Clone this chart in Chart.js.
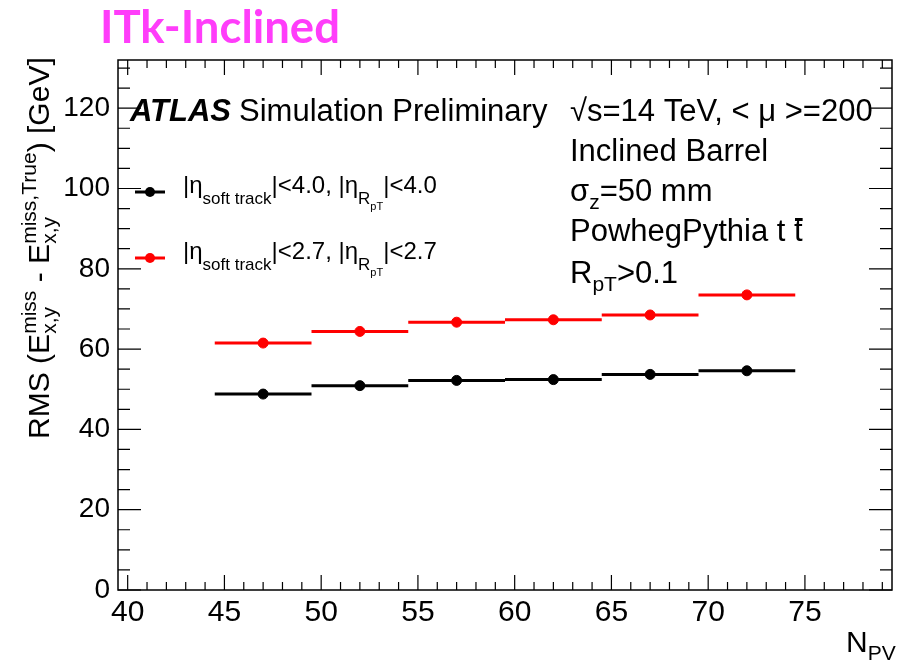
<!DOCTYPE html>
<html>
<head>
<meta charset="utf-8">
<script src="https://cdn.jsdelivr.net/npm/chart.js@4.4.1/dist/chart.umd.min.js"></script>
<style>
  html, body { margin: 0; padding: 0; background: #fff; }
  #wrap { position: relative; width: 898px; height: 660px; }
</style>
</head>
<body>
<div id="wrap"><canvas id="c" width="898" height="660"></canvas></div>
<script>
// N_PV の区間（ビン端）と中心
const binEdges = [44.5, 49.5, 54.5, 59.5, 64.5, 69.5, 74.5];
const npvCenters = [47, 52, 57, 62, 67, 72];

// RMS 値 [GeV]
const rmsEta40 = [48.8, 50.9, 52.2, 52.4, 53.7, 54.6]; // |eta|<4.0 (黒)
const rmsEta27 = [61.5, 64.4, 66.7, 67.3, 68.5, 73.5]; // |eta|<2.7 (赤)

// 目盛りラベル
const xTicks = [40, 45, 50, 55, 60, 65, 70, 75];
const yTicks = [0, 20, 40, 60, 80, 100, 120];

const FONT = '"Liberation Sans", Arial, Helvetica, sans-serif';
const f = (size, style = "") => `${style} ${size}px ${FONT}`;

// ビンごとの横線（間に null を入れて繋がらないようにする）
function segments(values) {
  const pts = [];
  values.forEach((v, i) => {
    pts.push({ x: binEdges[i], y: v }, { x: binEdges[i + 1], y: v }, { x: binEdges[i + 1], y: null });
  });
  return pts;
}
const dots = (values) => values.map((v, i) => ({ x: npvCenters[i], y: v }));

// 上付き・下付きを含む文字列を描く（k で文字サイズを一括拡大縮小）
function drawRich(ctx, x, y, parts, k = 1, dry = false) {
  let cx = x;
  parts.forEach((p) => {
    const items = p.stack || [p];
    let w = 0;
    items.forEach((q) => {
      ctx.font = f(q.s * k, q.st || "");
      if (!dry) ctx.fillText(q.t, cx, y + (q.dy || 0) * k);
      w = Math.max(w, ctx.measureText(q.t).width);
    });
    cx += w;
  });
  return cx;
}

// ROOT 風の枠と内向き目盛り
const framePlugin = {
  id: "frame",
  afterDraw(chart) {
    const { ctx, chartArea: a, scales } = chart;
    const xs = scales.x, ys = scales.y;
    ctx.save();
    ctx.strokeStyle = "#000";
    ctx.lineWidth = 1.5;
    ctx.strokeRect(a.left, a.top, a.right - a.left, a.bottom - a.top);
    ctx.lineWidth = 1.2;
    ctx.beginPath();
    for (let v = 40; v <= 79; v++) {
      const px = xs.getPixelForValue(v);
      const len = v % 5 === 0 ? 15 : 8;
      ctx.moveTo(px, a.bottom); ctx.lineTo(px, a.bottom - len);
      ctx.moveTo(px, a.top); ctx.lineTo(px, a.top + len);
    }
    for (let v = 0; v <= 130; v += 5) {
      const py = ys.getPixelForValue(v);
      const len = v % 20 === 0 ? 23 : 12;
      ctx.moveTo(a.left, py); ctx.lineTo(a.left + len, py);
      ctx.moveTo(a.right, py); ctx.lineTo(a.right - len, py);
    }
    ctx.stroke();
    ctx.restore();
  },
};

// タイトル・注釈・凡例・軸タイトル
const textPlugin = {
  id: "texts",
  afterDraw(chart) {
    const { ctx } = chart;
    ctx.save();
    ctx.textBaseline = "alphabetic";
    ctx.textAlign = "left";

    // タイトル
    ctx.fillStyle = "#ff3dfa";
    ctx.font = 'bold 40px Lato, "Open Sans", sans-serif';
    const tw = ctx.measureText("ITk-Inclined").width;
    const ts = 40 * 240 / tw;
    ctx.font = `bold ${ts}px Lato, "Open Sans", sans-serif`;
    ctx.fillText("ITk-Inclined", 100, 43);

    ctx.fillStyle = "#000";
    // ATLAS ラベル
    let x = drawRich(ctx, 130, 121, [{ t: "ATLAS", s: 31, st: "italic bold" }]);
    drawRich(ctx, x + 8, 121, [{ t: "Simulation Preliminary", s: 31 }]);

    drawRich(ctx, 570, 121, [{ t: "\u221As=14 TeV, < \u03bc >=200", s: 31 }]);
    drawRich(ctx, 570, 161, [{ t: "Inclined Barrel", s: 31 }]);
    drawRich(ctx, 570, 201, [{ t: "\u03c3", s: 31 }, { t: "z", s: 21, dy: 8 }, { t: "=50 mm", s: 31 }]);
    x = drawRich(ctx, 570, 241, [{ t: "PowhegPythia t ", s: 31 }]);
    const tEnd = drawRich(ctx, x, 241, [{ t: "t", s: 31 }]);
    ctx.fillRect(x + 1, 218, tEnd - x - 1, 3);
    drawRich(ctx, 570, 283, [{ t: "R", s: 31 }, { t: "pT", s: 21, dy: 8 }, { t: ">0.1", s: 31 }]);

    // 凡例
    const legend = [
      { color: "#000", y: 192, cut: "4.0" },
      { color: "#ff0000", y: 258, cut: "2.7" },
    ];
    legend.forEach((l) => {
      ctx.strokeStyle = l.color;
      ctx.fillStyle = l.color;
      ctx.lineWidth = 3;
      ctx.beginPath();
      ctx.moveTo(135, l.y); ctx.lineTo(165, l.y);
      ctx.stroke();
      ctx.beginPath();
      ctx.arc(150, l.y, 5, 0, Math.PI * 2);
      ctx.fill();
      ctx.fillStyle = "#000";
      drawRich(ctx, 183, l.y + 1, [
        { t: "|\u03b7", s: 24 },
        { t: "soft track", s: 17, dy: 11 },
        { t: `|<${l.cut}, |\u03b7`, s: 24 },
        { t: "R", s: 17, dy: 11 },
        { t: "pT", s: 11, dy: 17 },
        { t: `|<${l.cut}`, s: 24 },
      ]);
    });

    // X 軸タイトル
    ctx.fillStyle = "#000";
    drawRich(ctx, 846, 652, [{ t: "N", s: 30 }, { t: "PV", s: 21, dy: 8 }]);

    // Y 軸タイトル（回転、長さを 382px に合わせる）
    const yTitle = [
      { t: "RMS (E", s: 30 },
      { stack: [{ t: "miss", s: 21, dy: -13 }, { t: "x,y", s: 21, dy: 7 }] },
      { t: " - E", s: 30 },
      { stack: [{ t: "miss,True", s: 21, dy: -13 }, { t: "x,y", s: 21, dy: 7 }] },
      { t: ") [GeV]", s: 30 },
    ];
    const k = 382 / drawRich(ctx, 0, 0, yTitle, 1, true);
    ctx.translate(49, 439);
    ctx.rotate(-Math.PI / 2);
    drawRich(ctx, 0, 0, yTitle, k);
    ctx.restore();
  },
};

const series = [
  { values: rmsEta40, color: "#000000" },
  { values: rmsEta27, color: "#ff0000" },
];
const datasets = [];
series.forEach((s) => {
  datasets.push({
    data: segments(s.values),
    showLine: true,
    spanGaps: false,
    borderColor: s.color,
    borderWidth: 3,
    pointRadius: 0,
  });
  datasets.push({
    data: dots(s.values),
    showLine: false,
    backgroundColor: s.color,
    borderColor: s.color,
    pointRadius: 5,
  });
});

new Chart(document.getElementById("c"), {
  type: "scatter",
  data: { datasets },
  options: {
    responsive: false,
    animation: false,
    layout: { padding: { left: 0, top: 60, right: 4, bottom: 0 } },
    plugins: { legend: { display: false }, tooltip: { enabled: false } },
    scales: {
      x: {
        type: "linear",
        min: 39.5,
        max: 79.5,
        afterBuildTicks: (scale) => { scale.ticks = xTicks.map((v) => ({ value: v })); },
        afterFit: (scale) => { scale.height = 70; },
        grid: { display: false, drawTicks: false },
        border: { display: false },
        ticks: { color: "#000", font: { size: 30, family: FONT }, padding: 5, maxRotation: 0, autoSkip: false },
      },
      y: {
        type: "linear",
        min: 0,
        max: 132,
        afterBuildTicks: (scale) => { scale.ticks = yTicks.map((v) => ({ value: v })); },
        afterFit: (scale) => { scale.width = 118; },
        grid: { display: false, drawTicks: false },
        border: { display: false },
        ticks: { color: "#000", font: { size: 28, family: FONT }, padding: 8, autoSkip: false },
      },
    },
  },
  plugins: [framePlugin, textPlugin],
});
</script>
</body>
</html>
